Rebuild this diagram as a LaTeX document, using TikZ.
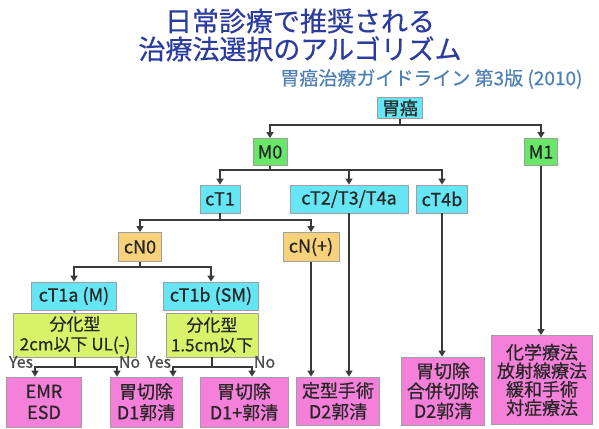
\documentclass[tikz,border=0pt]{standalone}
\usepackage{fontspec}
\setmainfont{Noto Sans CJK JP}
\newfontfamily\boxfont{Noto Sans CJK JP}[FakeBold=0.6]
\newfontfamily\headfont{Noto Sans CJK JP}[FakeBold=0.5]
\usetikzlibrary{arrows.meta, positioning, calc}

\definecolor{titleblue}{HTML}{2B3C9E}
\definecolor{subblue}{HTML}{4F80B5}
\definecolor{boxcyan}{HTML}{66E6F4}
\definecolor{boxgreen}{HTML}{68E86A}
\definecolor{boxorange}{HTML}{F8D27A}
\definecolor{boxlime}{HTML}{D8F26A}
\definecolor{boxpink}{HTML}{F480DA}
\definecolor{linegray}{HTML}{3A3A3A}

\begin{document}
\begin{tikzpicture}[x=1pt, y=-1pt,
  box/.style={rectangle, draw=gray!75, line width=0.8pt, align=center, inner sep=0pt,
    text=black!85, font=\boxfont\fontsize{18}{21}\selectfont},
  cbox/.style={box, fill=boxcyan, minimum height=28pt},
  gbox/.style={box, fill=boxgreen, minimum height=27pt},
  obox/.style={box, fill=boxorange, minimum height=29pt},
  lbox/.style={box, fill=boxlime, minimum height=44pt, font=\boxfont\fontsize{17}{20}\selectfont},
  pbox/.style={box, fill=boxpink},
  link/.style={draw=linegray, line width=1.8pt},
  arr/.style={link, -{Triangle[length=6pt, width=7pt]}},
  yn/.style={font=\boxfont\fontsize{16}{16}\selectfont, text=black!70, inner sep=1pt, yshift=5pt}]
\useasboundingbox (0,0) rectangle (599,428);

% title
\node[font=\headfont\fontsize{27}{28}\selectfont, text=titleblue, align=center] (title) at (300,35)
  {日常診療で推奨される\\治療法選択のアルゴリズム};
\node[font=\headfont\fontsize{19}{19}\selectfont, text=subblue, anchor=east] (sub) at (586,79)
  {胃癌治療ガイドライン 第3版 (2010)};

% nodes
\node[cbox, minimum width=45pt, minimum height=21pt] (root) at (400,108) {胃癌};
\node[gbox, minimum width=34pt] (M0) at (270,152) {M0};
\node[gbox, minimum width=33pt] (M1) at (541,152) {M1};
\node[cbox, minimum width=40pt] (cT1) at (220,199) {cT1};
\node[cbox, minimum width=118pt] (cT2) at (349,199) {cT2/T3/T4a};
\node[cbox, minimum width=51pt] (cT4b) at (442,199) {cT4b};
\node[obox, minimum width=43pt] (cN0) at (140,247) {cN0};
\node[obox, minimum width=56pt] (cNp) at (311,247) {cN(+)};
\node[cbox, minimum width=85pt] (cT1a) at (74,296) {cT1a (M)};
\node[cbox, minimum width=95pt] (cT1b) at (211,296) {cT1b (SM)};
\node[lbox, minimum width=123pt] (diffa) at (75,335) {分化型\\2cm以下 UL(-)};
\node[lbox, minimum width=92pt] (diffb) at (212,335) {分化型\\1.5cm以下};
\node[pbox, minimum width=75pt, minimum height=50pt] (emr) at (44,402) {EMR\\ESD};
\node[pbox, minimum width=72pt, minimum height=50pt] (dOne) at (146,402) {胃切除\\D1郭清};
\node[pbox, minimum width=88pt, minimum height=50pt] (dOneP) at (244,402) {胃切除\\D1+郭清};
\node[pbox, minimum width=83pt, minimum height=48pt] (dTwo) at (338,401) {定型手術\\D2郭清};
\node[pbox, minimum width=83pt, minimum height=68pt, font=\boxfont\fontsize{18}{20}\selectfont]
  (comb) at (443,391) {胃切除\\合併切除\\D2郭清};
\node[pbox, minimum width=101pt, minimum height=89pt, font=\boxfont\fontsize{18}{18.5}\selectfont]
  (chemo) at (542,380) {化学療法\\放射線療法\\緩和手術\\対症療法};

% connectors
\coordinate (bRoot) at (400,125);
\coordinate (bM0) at (270,170);
\coordinate (bT1) at (220,220);
\coordinate (bN0) at (140,267);
\coordinate (bA) at (75,367);
\coordinate (bB) at (212,367);
\draw[link] (root) -- (bRoot);
\draw[arr] (bRoot) -| (M0);
\draw[arr] (bRoot) -| (M1);
\draw[link] (M0) -- (bM0);
\draw[arr] (bM0) -| (cT1);
\draw[arr] (bM0) -| (cT2);
\draw[arr] (bM0) -| (cT4b);
\draw[link] (cT1) -- (bT1);
\draw[arr] (bT1) -| (cN0);
\draw[arr] (bT1) -| (cNp);
\draw[link] (cN0) -- (bN0);
\draw[arr] (bN0) -| (cT1a);
\draw[arr] (bN0) -| (cT1b);
\draw[link] (cT1a) -- (diffa);
\draw[link] (cT1b) -- (diffb);
\draw[link] (diffa) -- (bA);
\draw[arr] (bA) -| node[yn, pos=0.5, left] {Yes} (emr.north -| 35,0);
\draw[arr] (bA) -| node[yn, pos=0.5, right] {No} (dOne.north -| 117,0);
\draw[link] (diffb) -- (bB);
\draw[arr] (bB) -| node[yn, pos=0.5, left] {Yes} (dOneP.north -| 173,0);
\draw[arr] (bB) -| node[yn, pos=0.5, right] {No} (dOneP.north -| 252,0);
\draw[arr] (cNp) -- (cNp |- dTwo.north);
\draw[arr] (cT2) -- (cT2 |- dTwo.north);
\draw[arr] (cT4b) -- (cT4b |- comb.north);
\draw[arr] (M1) -- (M1 |- chemo.north);
\end{tikzpicture}
\end{document}
